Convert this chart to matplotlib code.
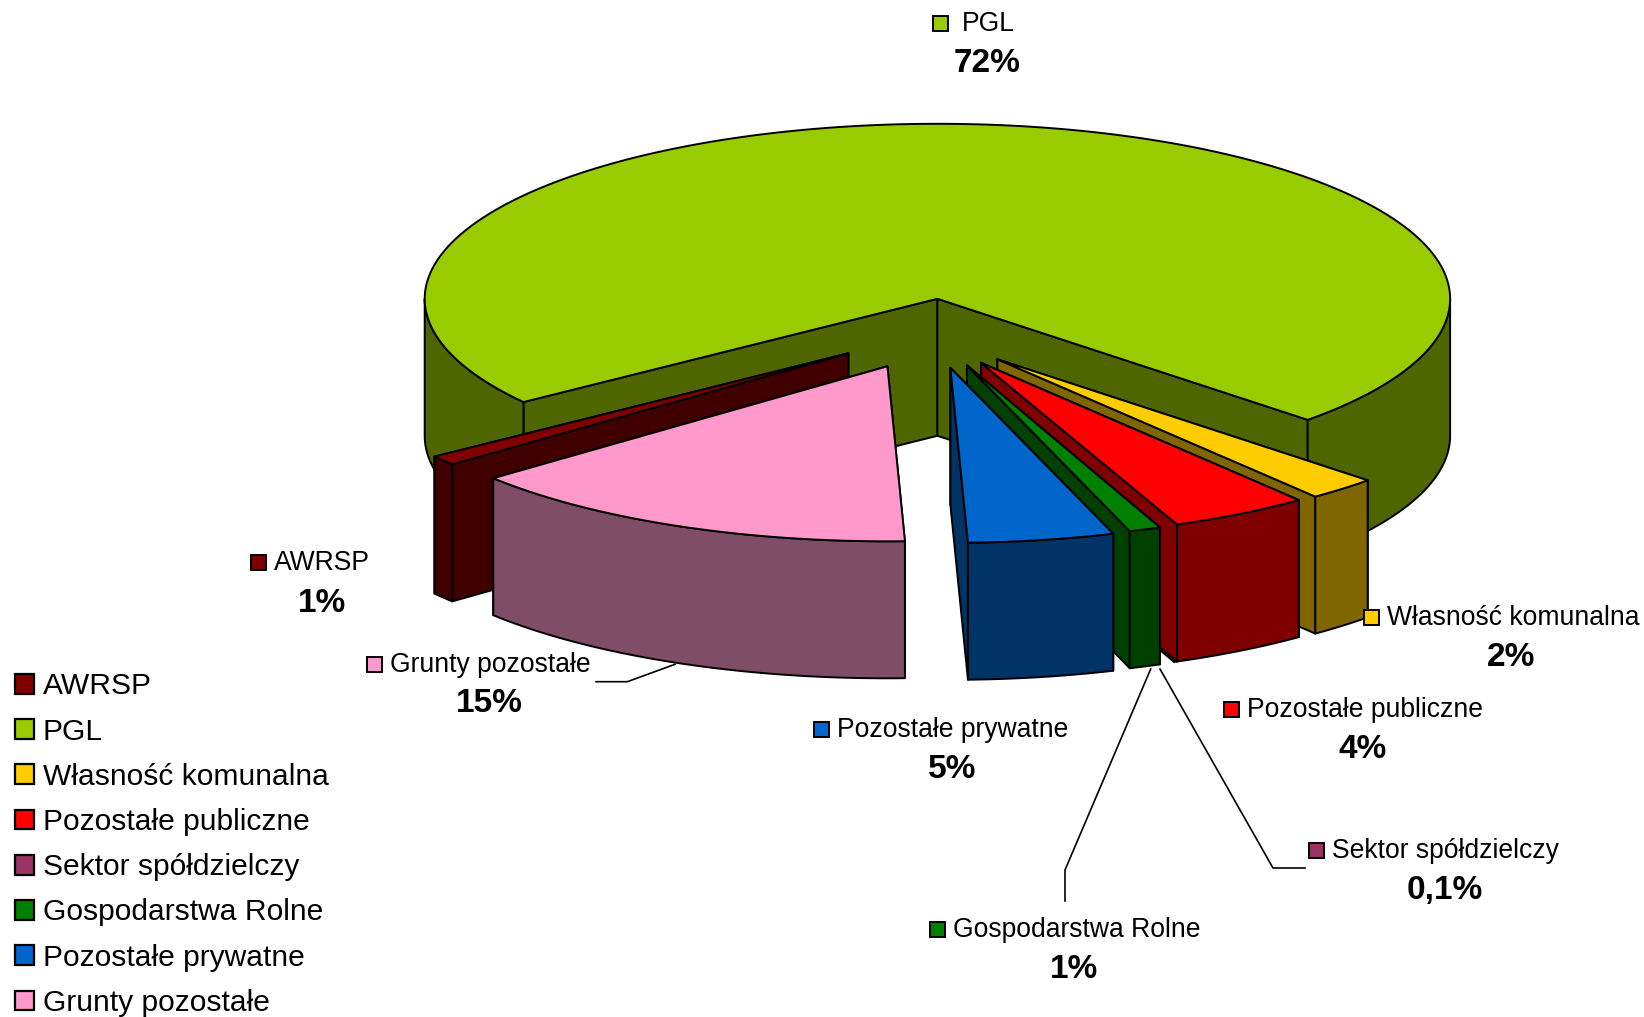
import numpy as np
import matplotlib
matplotlib.use("Agg")
import matplotlib.pyplot as plt
from matplotlib.patches import Polygon, Rectangle, Patch

plt.rcParams["font.family"] = ["Liberation Sans", "DejaVu Sans"]

# clockwise order, starting with AWRSP
names = ["AWRSP", "PGL", "Własność komunalna", "Pozostałe publiczne",
         "Sektor spółdzielczy", "Gospodarstwa Rolne", "Pozostałe prywatne", "Grunty pozostałe"]
shares = [0.9, 72.2, 2.2, 4.4, 0.1, 1.0, 4.6, 14.5]
pct_labels = ["1%", "72%", "2%", "4%", "0,1%", "1%", "5%", "15%"]

top_colors = ["#800000", "#99CC00", "#FFCC00", "#FF0000", "#993366", "#008000", "#0066CC", "#FF99CC"]
side_colors = ["#400000", "#4F6600", "#7F6600", "#7F0000", "#4C1933", "#004000", "#003366", "#7F4D66"]

# pie layout, in pixels of the picture
cx, cy = 937.4, 298.8
rx, ry = 512.7, 175.0
depth = 137
start_angle = 230.6
explode = [(-89, 54.5), (0, 0), (60, 60.5), (43.6, 64), (43.6, 64), (29.5, 66.5), (13, 69), (-50, 67.5)]
# the sliver for Sektor sits behind the Pozostałe publiczne wall
draw_order = [1, 0, 2, 4, 3, 5, 6, 7]

# data label layout: key left, text left, row y, percent centre x, percent y
label_pos = [
    (251, 274, 563, 322, 603),
    (933, 962, 24, 987, 64),
    (1364, 1387, 618, 1511, 658),
    (1224, 1247, 710, 1363, 749),
    (1309, 1332, 851, 1445, 891),
    (930, 953, 930, 1074, 970),
    (814, 837, 730, 952, 769),
    (367, 390, 665, 489, 704),
]
leaders = [
    ([1150.7, 1065, 1065], [669, 870, 901]),
    ([1160, 1273, 1305], [669, 868, 868]),
    ([675, 627.3, 596], [664.3, 681.7, 681.7]),
]

fig = plt.figure(figsize=(16.44, 10.17), dpi=100)
ax = fig.add_axes([0, 0, 1, 1])
ax.set_xlim(0, 1644)
ax.set_ylim(1017, 0)
ax.axis("off")


def rim(a0, a1, ox, oy):
    t = np.radians(np.linspace(a0, a1, max(int(abs(a1 - a0)) * 2, 2)))
    return np.column_stack([cx + ox + rx * np.sin(t), cy + oy - ry * np.cos(t)])


def face(pts, color, z):
    ax.add_patch(Polygon(pts, closed=True, facecolor=color, edgecolor="black",
                         linewidth=1.4, joinstyle="round", zorder=z))


z = 1
angle = start_angle
spans = []
for s in shares:
    spans.append((angle, angle + s * 3.6))
    angle += s * 3.6

for i in draw_order:
    a0, a1 = spans[i]
    ox, oy = explode[i]
    tip = np.array([cx + ox, cy + oy])
    # back wall first, the one nearer the front goes on top of it
    for a in sorted([a0, a1], key=lambda v: -abs((v % 360) - 180)):
        edge = rim(a, a, ox, oy)[0]
        face([tip, edge, edge + [0, depth], tip + [0, depth]], side_colors[i], z)
        z += 1
    # outer side only where the rim faces the viewer
    for lo, hi in [(90, 270), (450, 630)]:
        b0, b1 = max(a0, lo), min(a1, hi)
        if b1 > b0:
            arc = rim(b0, b1, ox, oy)
            face(np.vstack([arc, arc[::-1] + [0, depth]]), side_colors[i], z)
            z += 1
    face(np.vstack([[tip], rim(a0, a1, ox, oy)]), top_colors[i], z)
    z += 1

for xs, ys in leaders:
    ax.plot(xs, ys, color="black", lw=1.2, zorder=z)

for i, (kx, tx, y, px, py) in enumerate(label_pos):
    ax.add_patch(Rectangle((kx, y - 8.5), 15, 15, facecolor=top_colors[i], edgecolor="black",
                           linewidth=1.4, zorder=z))
    ax.text(tx, y, names[i], fontsize=19.1, va="center", ha="left", zorder=z)
    ax.text(px, py, pct_labels[i], fontsize=24, fontweight="bold", va="center", ha="center", zorder=z)

handles = [Patch(facecolor=c, edgecolor="black", linewidth=1.6) for c in top_colors]
ax.legend(handles, names, loc="lower left", bbox_to_anchor=(15 / 1644, 0), frameon=False,
          fontsize=21.6, handlelength=0.63, handleheight=0.63, handletextpad=0.3,
          labelspacing=0.575, borderpad=0, borderaxespad=0)

fig.savefig("out.png", dpi=100)
